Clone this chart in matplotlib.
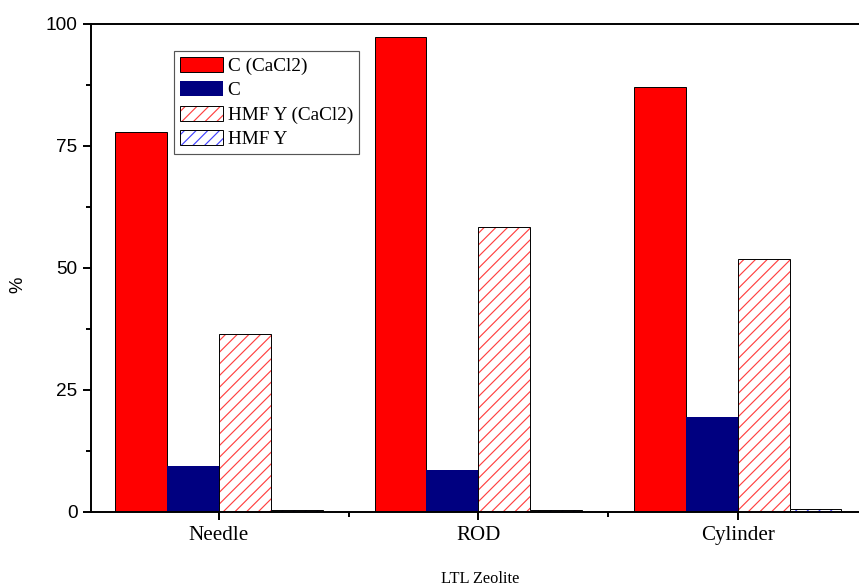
import numpy as np
import matplotlib
matplotlib.use("Agg")
import matplotlib.pyplot as plt
from matplotlib.legend_handler import HandlerTuple

# Data
categories = ["Needle", "ROD", "Cylinder"]
c_cacl2 = [77.9, 97.4, 87.1]
c_plain = [9.4, 8.6, 19.5]
hmf_cacl2 = [36.5, 58.4, 51.9]
hmf_plain = [0.4, 0.4, 0.6]

DPI = 140
plt.rcParams["hatch.linewidth"] = 0.6

fig = plt.figure(figsize=(859 / DPI, 588 / DPI), dpi=DPI)
ax = fig.add_axes([91 / 859, 1 - 512 / 588, (870 - 91) / 859, (512 - 24) / 588])

serif = "Liberation Serif"
sans = "Liberation Sans"

x = np.arange(len(categories))
w = 0.2

b1 = ax.bar(x - 1.5 * w, c_cacl2, w, color="#ff0000", edgecolor="black", linewidth=0.5)
b2 = ax.bar(x - 0.5 * w, c_plain, w, color="#000080", edgecolor="none", linewidth=0)

# hatched bars: coloured hatch, then a black outline on top
h3 = ax.bar(x + 0.5 * w, hmf_cacl2, w, color="white", edgecolor="#ff4040", hatch="////", linewidth=0)
o3 = ax.bar(x + 0.5 * w, hmf_cacl2, w, fill=False, edgecolor="black", linewidth=0.5)
h4 = ax.bar(x + 1.5 * w, hmf_plain, w, color="white", edgecolor="#4040ff", hatch="////", linewidth=0)
o4 = ax.bar(x + 1.5 * w, hmf_plain, w, fill=False, edgecolor="black", linewidth=0.5)

ax.set_xlim(-0.493, 2.51)
ax.set_ylim(0, 100)

ax.spines["right"].set_visible(False)
for s in ["left", "bottom", "top"]:
    ax.spines[s].set_linewidth(1.0)

ax.set_yticks([0, 25, 50, 75, 100])
ax.set_yticks([12.5, 37.5, 62.5, 87.5], minor=True)
ax.set_xticks(x)
ax.set_xticks([0.5, 1.5], minor=True)
ax.set_xticklabels(categories, fontfamily=serif, fontsize=10.8)
ax.set_yticklabels(["0", "25", "50", "75", "100"], fontfamily=sans, fontsize=9.8)
ax.tick_params(which="major", direction="out", length=4, width=1.0, pad=3)
ax.tick_params(which="minor", direction="out", length=2.5, width=1.0)
ax.tick_params(axis="x", which="both", top=False)

ax.set_xlabel("LTL Zeolite", fontfamily=serif, fontsize=8.4, labelpad=13.5)
ax.set_ylabel("%", fontfamily=sans, fontsize=9.5)
ax.yaxis.set_label_coords(-0.0834, 0.465)

leg = ax.legend(
    [b1, b2, (h3, o3), (h4, o4)],
    ["C (CaCl2)", "C", "HMF Y (CaCl2)", "HMF Y"],
    handler_map={tuple: HandlerTuple(ndivide=1)},
    loc="upper left", bbox_to_anchor=(0.1066, 0.9447),
    prop={"family": serif, "size": 9.9},
    handlelength=2.22, handleheight=0.83, handletextpad=0.27,
    labelspacing=0.32, borderpad=0.3, borderaxespad=0,
    fancybox=False, framealpha=1, edgecolor="#555555",
)
leg.get_frame().set_linewidth(0.6)

fig.savefig("out.png", dpi=DPI)
